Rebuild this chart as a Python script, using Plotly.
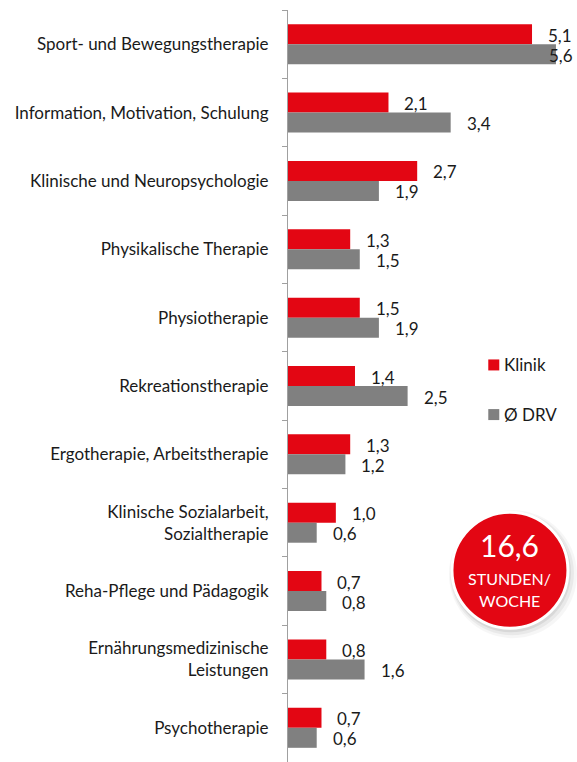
import plotly.graph_objects as go

categories = [
    "Sport- und Bewegungstherapie",
    "Information, Motivation, Schulung",
    "Klinische und Neuropsychologie",
    "Physikalische Therapie",
    "Physiotherapie",
    "Rekreationstherapie",
    "Ergotherapie, Arbeitstherapie",
    "Klinische Sozialarbeit,<br>Sozialtherapie",
    "Reha-Pflege und Pädagogik",
    "Ernährungsmedizinische<br>Leistungen",
    "Psychotherapie",
]
klinik = [5.1, 2.1, 2.7, 1.3, 1.5, 1.4, 1.3, 1.0, 0.7, 0.8, 0.7]
drv = [5.6, 3.4, 1.9, 1.5, 1.9, 2.5, 1.2, 0.6, 0.8, 1.6, 0.6]
series_names = ["Klinik", "Ø DRV"]
total_text = "16,6"
badge_lines = ["STUNDEN/", "WOCHE"]

RED = "#E30613"
GRAY = "#808080"
FONT = "Lato"
TXT = "#1a1a1a"
XMAX = 6.04

fig = go.Figure()
fig.add_trace(go.Bar(y=categories, x=klinik, orientation="h", name=series_names[0],
                     marker=dict(color=RED, line=dict(width=0)), showlegend=False))
fig.add_trace(go.Bar(y=categories, x=drv, orientation="h", name=series_names[1],
                     marker=dict(color=GRAY, line=dict(width=0)), showlegend=False))

annotations = []
for vals, ys in ((klinik, 9), (drv, -11)):
    for c, v in zip(categories, vals):
        txt = f"{v:.1f}".replace(".", ",")
        if v > XMAX - 0.8:
            annotations.append(dict(x=XMAX, y=c, xref="x", yref="y", text=txt, showarrow=False,
                                    xanchor="right", xshift=-2, yshift=ys,
                                    font=dict(family=FONT, size=17, color=TXT)))
        else:
            annotations.append(dict(x=v, y=c, xref="x", yref="y", text=txt, showarrow=False,
                                    xanchor="left", xshift=14, yshift=ys,
                                    font=dict(family=FONT, size=17, color=TXT)))

shapes = []
# legend (custom, to match spacing of the reference)
leg_x = 0.693
for i, (name, col) in enumerate(zip(series_names, (RED, GRAY))):
    ly = 0.528 - i * 0.066
    shapes.append(dict(type="rect", xref="paper", yref="paper", xsizemode="pixel", ysizemode="pixel",
                       xanchor=leg_x, yanchor=ly, x0=0, x1=11, y0=-5.5, y1=5.5,
                       fillcolor=col, line=dict(width=0)))
    annotations.append(dict(x=leg_x, y=ly, xref="paper", yref="paper", text=name, showarrow=False,
                            xanchor="left", yanchor="middle", xshift=14,
                            font=dict(family=FONT, size=17, color=TXT)))

# badge
cx, cy = 0.768, 0.255
for r, dx, dy, a in ((64, 3, -4, 0.035), (62, 2, -3, 0.05), (60, 1, -2, 0.07)):
    shapes.append(dict(type="circle", xref="paper", yref="paper", xsizemode="pixel", ysizemode="pixel",
                       xanchor=cx, yanchor=cy, x0=-r + dx, x1=r + dx, y0=-r + dy, y1=r + dy,
                       fillcolor=f"rgba(0,0,0,{a})", line=dict(width=0)))
shapes.append(dict(type="circle", xref="paper", yref="paper", xsizemode="pixel", ysizemode="pixel",
                   xanchor=cx, yanchor=cy, x0=-58, x1=58, y0=-58, y1=58,
                   fillcolor=RED, line=dict(color="white", width=3)))
annotations.append(dict(x=cx, y=cy, xref="paper", yref="paper", text=total_text, showarrow=False,
                        xanchor="center", yanchor="middle",
                        yshift=25, font=dict(family=FONT, size=30, color="white")))
annotations.append(dict(x=cx, y=cy, xref="paper", yref="paper", text=badge_lines[0], showarrow=False,
                        xanchor="center", yanchor="middle",
                        yshift=-8, font=dict(family=FONT, size=16, color="white")))
annotations.append(dict(x=cx, y=cy, xref="paper", yref="paper", text=badge_lines[1], showarrow=False,
                        xanchor="center", yanchor="middle",
                        yshift=-30, font=dict(family=FONT, size=16, color="white")))

fig.update_layout(
    width=577, height=762,
    margin=dict(l=288, r=0, t=10, b=0),
    paper_bgcolor="white", plot_bgcolor="white",
    barmode="group", bargap=0.415, bargroupgap=0,
    showlegend=False,
    xaxis=dict(range=[0, XMAX], visible=False, fixedrange=True),
    yaxis=dict(autorange="reversed", showline=True, linecolor="#a0a0a0", linewidth=1,
               ticks="outside", tickson="boundaries", ticklen=5, tickcolor="#a0a0a0",
               ticklabelstandoff=15, showgrid=False, zeroline=False, automargin=False,
               tickfont=dict(family=FONT, size=17, color=TXT)),
    annotations=annotations, shapes=shapes,
    font=dict(family=FONT),
)
fig.write_html("out.html", config={"displayModeBar": False},
               post_script="document.body.style.margin='0';document.body.style.overflow='hidden';")
